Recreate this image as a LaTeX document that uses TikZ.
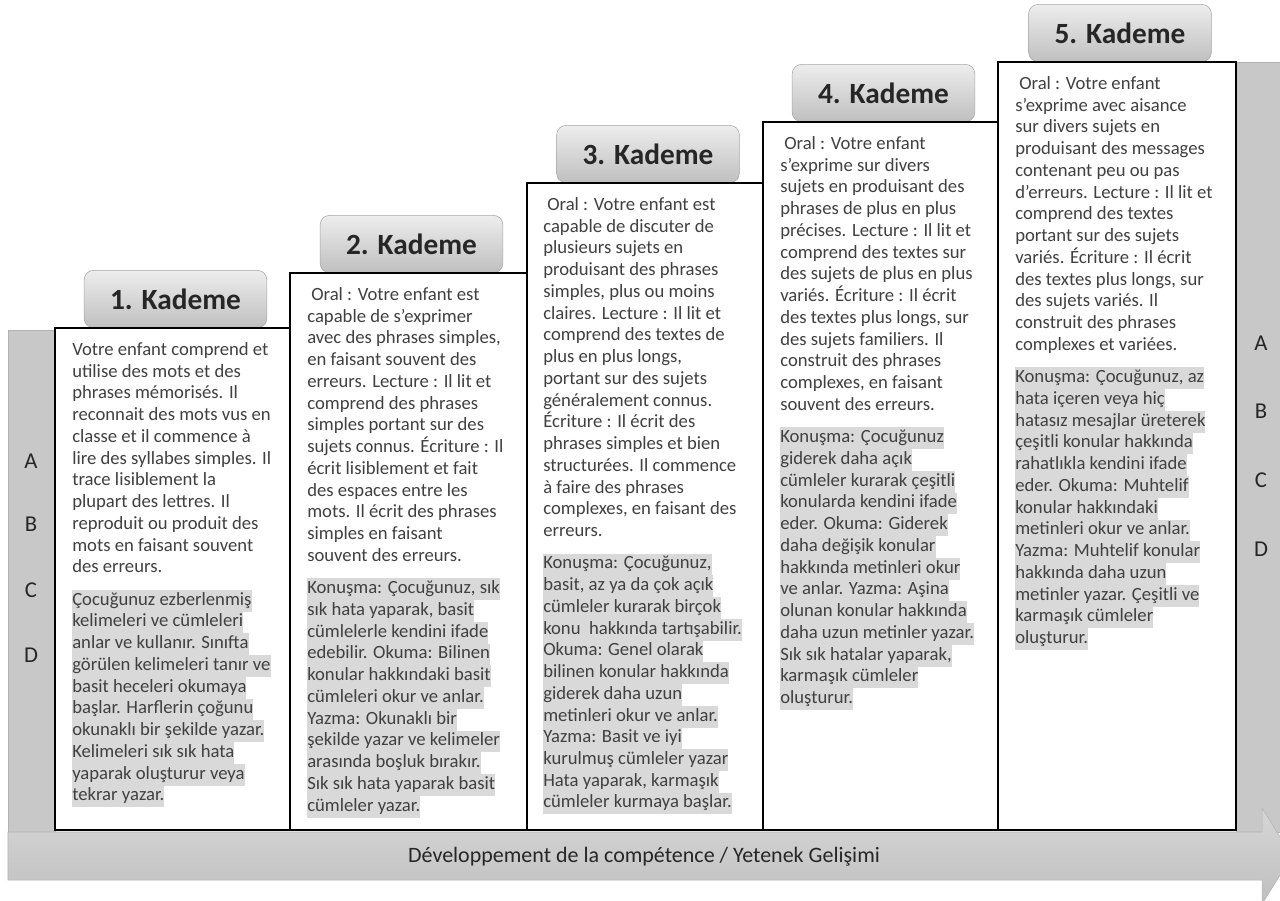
\documentclass[tikz,border=0pt]{standalone}
\usepackage{fontspec}
\setmainfont{Carlito}
\usetikzlibrary{calc}
\definecolor{txtgray}{HTML}{404040}
\definecolor{hlgray}{HTML}{D9D9D9}
\definecolor{bargray}{HTML}{C8C8C8}
\setlength{\fboxsep}{0pt}
\newcommand{\grayln}[1]{\colorbox{hlgray}{\strut#1}}

\begin{document}
\begin{tikzpicture}[x=0.75pt, y=-0.75pt,
  colbox/.style={draw=black, line width=1.2pt, fill=white},
  stage/.style={draw=black!35, rounded corners=7pt, top color=black!7, bottom color=black!25,
    minimum width=137pt, minimum height=43pt, inner sep=0pt, anchor=south,
    text=black!85, font=\fontsize{22}{26}\selectfont\bfseries},
  coltext/.style={anchor=north west, inner sep=0pt, align=left, text=txtgray,
    font=\fontsize{14}{16.3}\selectfont},
  letter/.style={text=black!85, font=\fontsize{17}{20}\selectfont},
  bar/.style={fill=bargray, draw=black!30, line width=0.4pt}]

\clip (0,0) rectangle (1280,900);

% Side bars and bottom arrow
\draw[bar] (8,330) rectangle (55,832);
\draw[bar] (1236,62) rectangle (1290,832);
\draw[draw=black!30, top color=black!16, bottom color=black!25] (8,832) -- (1262,832) -- (1262,808) -- (1292,856) -- (1262,904) -- (1262,880) -- (8,880) -- cycle;
\node[letter, font=\fontsize{16.5}{20}\selectfont] (axis) at (644,857) {Développement de la compétence / Yetenek Gelişimi};

\foreach \l/\y in {A/461,B/524,C/590,D/655} \node[letter] (l\l) at (31,\y) {\l};
\foreach \l/\y in {A/343,B/411,C/480,D/549} \node[letter] (r\l) at (1261,\y) {\l};

% Columns
\foreach \i/\xl/\xr/\yt in {1/55/290/328, 2/290/527/273, 3/527/763/183, 4/763/998/122, 5/998/1236/62}{
  \node[stage] (h\i) at ({(\xl+\xr)/2+3},\yt) {\i. Kademe};
  \draw[colbox] (\xl,\yt) coordinate (c\i) rectangle (\xr,830);
}

\node[coltext] (t1) at ($(c1)+(17,12)$) {\strut Votre enfant comprend et\\
utilise des mots et des\\
phrases mémorisés. Il\\
reconnait des mots vus en\\
classe et il commence à\\
lire des syllabes simples. Il\\
trace lisiblement la\\
plupart des lettres. Il\\
reproduit ou produit des\\
mots en faisant souvent\\
des erreurs.\\[8pt]
\grayln{Çocuğunuz ezberlenmiş}\\
\grayln{kelimeleri ve cümleleri}\\
\grayln{anlar ve kullanır. Sınıfta}\\
\grayln{görülen kelimeleri tanır ve}\\
\grayln{basit heceleri okumaya}\\
\grayln{başlar. Harflerin çoğunu}\\
\grayln{okunaklı bir şekilde yazar.}\\
\grayln{Kelimeleri sık sık hata}\\
\grayln{yaparak oluşturur veya}\\
\grayln{tekrar yazar.}};

\node[coltext] (t2) at ($(c2)+(17,12)$) {\strut\hspace*{3pt}Oral : Votre enfant est\\
capable de s’exprimer\\
avec des phrases simples,\\
en faisant souvent des\\
erreurs. Lecture : Il lit et\\
comprend des phrases\\
simples portant sur des\\
sujets connus. Écriture : Il\\
écrit lisiblement et fait\\
des espaces entre les\\
mots. Il écrit des phrases\\
simples en faisant\\
souvent des erreurs.\\[8pt]
\grayln{Konuşma: Çocuğunuz, sık}\\
\grayln{sık hata yaparak, basit}\\
\grayln{cümlelerle kendini ifade}\\
\grayln{edebilir. Okuma: Bilinen}\\
\grayln{konular hakkındaki basit}\\
\grayln{cümleleri okur ve anlar.}\\
\grayln{Yazma: Okunaklı bir}\\
\grayln{şekilde yazar ve kelimeler}\\
\grayln{arasında boşluk bırakır.}\\
\grayln{Sık sık hata yaparak basit}\\
\grayln{cümleler yazar.}};

\node[coltext] (t3) at ($(c3)+(16,12)$) {\strut\hspace*{3pt}Oral : Votre enfant est\\
capable de discuter de\\
plusieurs sujets en\\
produisant des phrases\\
simples, plus ou moins\\
claires. Lecture : Il lit et\\
comprend des textes de\\
plus en plus longs,\\
portant sur des sujets\\
généralement connus.\\
Écriture : Il écrit des\\
phrases simples et bien\\
structurées. Il commence\\
à faire des phrases\\
complexes, en faisant des\\
erreurs.\\[8pt]
\grayln{Konuşma: Çocuğunuz,}\\
\grayln{basit, az ya da çok açık}\\
\grayln{cümleler kurarak birçok}\\
\grayln{konu\ \ hakkında tartışabilir.}\\
\grayln{Okuma: Genel olarak}\\
\grayln{bilinen konular hakkında}\\
\grayln{giderek daha uzun}\\
\grayln{metinleri okur ve anlar.}\\
\grayln{Yazma: Basit ve iyi}\\
\grayln{kurulmuş cümleler yazar}\\
\grayln{Hata yaparak, karmaşık}\\
\grayln{cümleler kurmaya başlar.}};

\node[coltext] (t4) at ($(c4)+(17,12)$) {\strut\hspace*{3pt}Oral : Votre enfant\\
s’exprime sur divers\\
sujets en produisant des\\
phrases de plus en plus\\
précises. Lecture : Il lit et\\
comprend des textes sur\\
des sujets de plus en plus\\
variés. Écriture : Il écrit\\
des textes plus longs, sur\\
des sujets familiers. Il\\
construit des phrases\\
complexes, en faisant\\
souvent des erreurs.\\[8pt]
\grayln{Konuşma: Çocuğunuz}\\
\grayln{giderek daha açık}\\
\grayln{cümleler kurarak çeşitli}\\
\grayln{konularda kendini ifade}\\
\grayln{eder. Okuma: Giderek}\\
\grayln{daha değişik konular}\\
\grayln{hakkında metinleri okur}\\
\grayln{ve anlar. Yazma: Aşina}\\
\grayln{olunan konular hakkında}\\
\grayln{daha uzun metinler yazar.}\\
\grayln{Sık sık hatalar yaparak,}\\
\grayln{karmaşık cümleler}\\
\grayln{oluşturur.}};

\node[coltext] (t5) at ($(c5)+(17,12)$) {\strut\hspace*{3pt}Oral : Votre enfant\\
s’exprime avec aisance\\
sur divers sujets en\\
produisant des messages\\
contenant peu ou pas\\
d’erreurs. Lecture : Il lit et\\
comprend des textes\\
portant sur des sujets\\
variés. Écriture : Il écrit\\
des textes plus longs, sur\\
des sujets variés. Il\\
construit des phrases\\
complexes et variées.\\[8pt]
\grayln{Konuşma: Çocuğunuz, az}\\
\grayln{hata içeren veya hiç}\\
\grayln{hatasız mesajlar üreterek}\\
\grayln{çeşitli konular hakkında}\\
\grayln{rahatlıkla kendini ifade}\\
\grayln{eder. Okuma: Muhtelif}\\
\grayln{konular hakkındaki}\\
\grayln{metinleri okur ve anlar.}\\
\grayln{Yazma: Muhtelif konular}\\
\grayln{hakkında daha uzun}\\
\grayln{metinler yazar. Çeşitli ve}\\
\grayln{karmaşık cümleler}\\
\grayln{oluşturur.}};

\end{tikzpicture}
\end{document}
